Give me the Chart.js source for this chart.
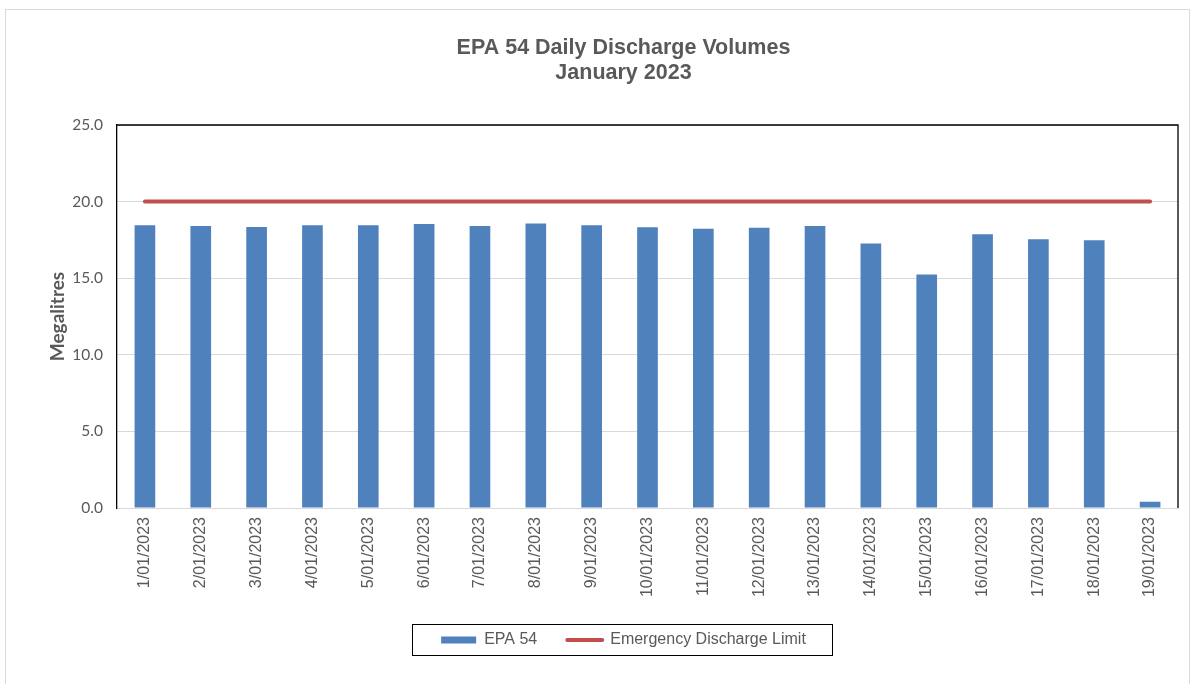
<!DOCTYPE html>
<html>
<head>
<meta charset="utf-8">
<title>EPA 54 Daily Discharge Volumes</title>
<script src="https://cdn.jsdelivr.net/npm/chart.js@4.4.1/dist/chart.umd.min.js"></script>
<style>
  html, body { margin: 0; padding: 0; background: #fff; }
  #wrap { width: 1195px; height: 684px; }
</style>
</head>
<body>
<div id="wrap"><canvas id="chart" width="1195" height="684"></canvas></div>
<script>
// Datos
const days = ["1/01/2023", "2/01/2023", "3/01/2023", "4/01/2023", "5/01/2023", "6/01/2023",
  "7/01/2023", "8/01/2023", "9/01/2023", "10/01/2023", "11/01/2023", "12/01/2023",
  "13/01/2023", "14/01/2023", "15/01/2023", "16/01/2023", "17/01/2023", "18/01/2023", "19/01/2023"];
const epa54 = [18.46, 18.40, 18.35, 18.46, 18.46, 18.53, 18.40, 18.57, 18.46, 18.33,
  18.22, 18.29, 18.40, 17.26, 15.24, 17.87, 17.55, 17.48, 0.41];
const emergencyLimit = [20, 20, 20, 20, 20, 20, 20, 20, 20, 20, 20, 20, 20, 20, 20, 20, 20, 20, 20];
const titleLines = ["EPA 54 Daily Discharge Volumes", "January 2023"];

const BLUE = "#4F81BD";
const RED = "#C0504D";
const GREY_TXT = "#595959";
const GRID = "#d9d9d9";

// Marco exterior, titulo, borde del area y recuadro de leyenda
const decor = {
  id: "decor",
  afterLayout(chart) {
    // la leyenda va algo a la izquierda del centro del area
    chart.legend.left -= 24;
    chart.legend.right -= 24;
  },
  beforeDraw(chart) {
    const ctx = chart.ctx;
    ctx.save();
    ctx.strokeStyle = GRID;
    ctx.lineWidth = 1;
    ctx.strokeRect(5.5, 9.5, 1184, 700);
    ctx.restore();
  },
  afterDraw(chart) {
    const ctx = chart.ctx;
    const a = chart.chartArea;
    ctx.save();
    // titulo
    ctx.fillStyle = GREY_TXT;
    ctx.font = "bold 21.5px 'Liberation Sans', Arial, sans-serif";
    ctx.textAlign = "center";
    ctx.textBaseline = "middle";
    const cx = (a.left + a.right) / 2 - 24;
    titleLines.forEach((t, i) => ctx.fillText(t, cx, 48 + i * 25));
    // borde superior y derecho del area
    ctx.strokeStyle = "#000";
    ctx.lineWidth = 1.3;
    ctx.beginPath();
    ctx.moveTo(a.left, a.top);
    ctx.lineTo(a.right, a.top);
    ctx.lineTo(a.right, a.bottom);
    ctx.stroke();
    // recuadro de la leyenda
    const hb = chart.legend.legendHitBoxes;
    if (hb && hb.length) {
      const first = hb[0], last = hb[hb.length - 1];
      const cy = first.top + first.height / 2;
      const l = Math.round(first.left - 29) + 0.5;
      const r = Math.round(last.left + last.width + 26) + 0.5;
      ctx.lineWidth = 1;
      ctx.strokeRect(l, Math.round(cy - 16) + 0.5, r - l, 31);
    }
    ctx.restore();
  }
};

new Chart(document.getElementById("chart"), {
  type: "bar",
  data: {
    labels: days,
    datasets: [
      {
        label: "EPA 54",
        data: epa54,
        backgroundColor: BLUE,
        borderWidth: 0,
        barPercentage: 0.37,
        categoryPercentage: 1,
        order: 2
      },
      {
        type: "line",
        label: "Emergency Discharge Limit",
        data: emergencyLimit,
        borderColor: RED,
        backgroundColor: RED,
        borderWidth: 4,
        borderCapStyle: "round",
        pointRadius: 0,
        pointHoverRadius: 0,
        fill: false,
        order: 1
      }
    ]
  },
  options: {
    responsive: false,
    animation: false,
    events: [],
    layout: { padding: { left: 42, right: 17, top: 125, bottom: 26 } },
    scales: {
      x: {
        offset: true,
        grid: { display: false, drawTicks: false },
        border: { display: true, color: GRID, width: 1 },
        ticks: {
          color: GREY_TXT,
          font: { family: "'Liberation Sans', Arial, sans-serif", size: 16 },
          minRotation: 90,
          maxRotation: 90,
          autoSkip: false,
          padding: 9
        },
        afterFit(scale) { scale.height = 94; }
      },
      y: {
        min: 0,
        max: 25,
        grid: { color: GRID, lineWidth: 1, drawTicks: false },
        border: { display: true, color: "#000", width: 1.3 },
        ticks: {
          stepSize: 5,
          color: GREY_TXT,
          font: { family: "Lato, 'Open Sans', sans-serif", size: 15.5 },
          padding: 14,
          callback: v => Number(v).toFixed(1)
        },
        title: {
          display: true,
          text: "Megalitres",
          color: GREY_TXT,
          font: { family: "Lato, 'Open Sans', sans-serif", size: 19, weight: "bold" },
          padding: { top: 4, bottom: 0 }
        },
        afterFit(scale) { scale.width = 75; }
      }
    },
    plugins: {
      title: { display: false },
      tooltip: { enabled: false },
      legend: {
        display: true,
        position: "bottom",
        fullSize: false,
        labels: {
          color: GREY_TXT,
          font: { family: "'Liberation Sans', Arial, sans-serif", size: 16 },
          usePointStyle: true,
          pointStyleWidth: 35,
          boxHeight: 7,
          padding: 30,
          generateLabels: () => [
            { text: "EPA 54", fillStyle: BLUE, strokeStyle: BLUE, lineWidth: 0,
              pointStyle: "rect", datasetIndex: 0, fontColor: GREY_TXT },
            { text: "Emergency Discharge Limit", fillStyle: RED, strokeStyle: RED, lineWidth: 4,
              lineCap: "round", pointStyle: "line", datasetIndex: 1, fontColor: GREY_TXT }
          ]
        }
      }
    }
  },
  plugins: [decor]
});
</script>
</body>
</html>
